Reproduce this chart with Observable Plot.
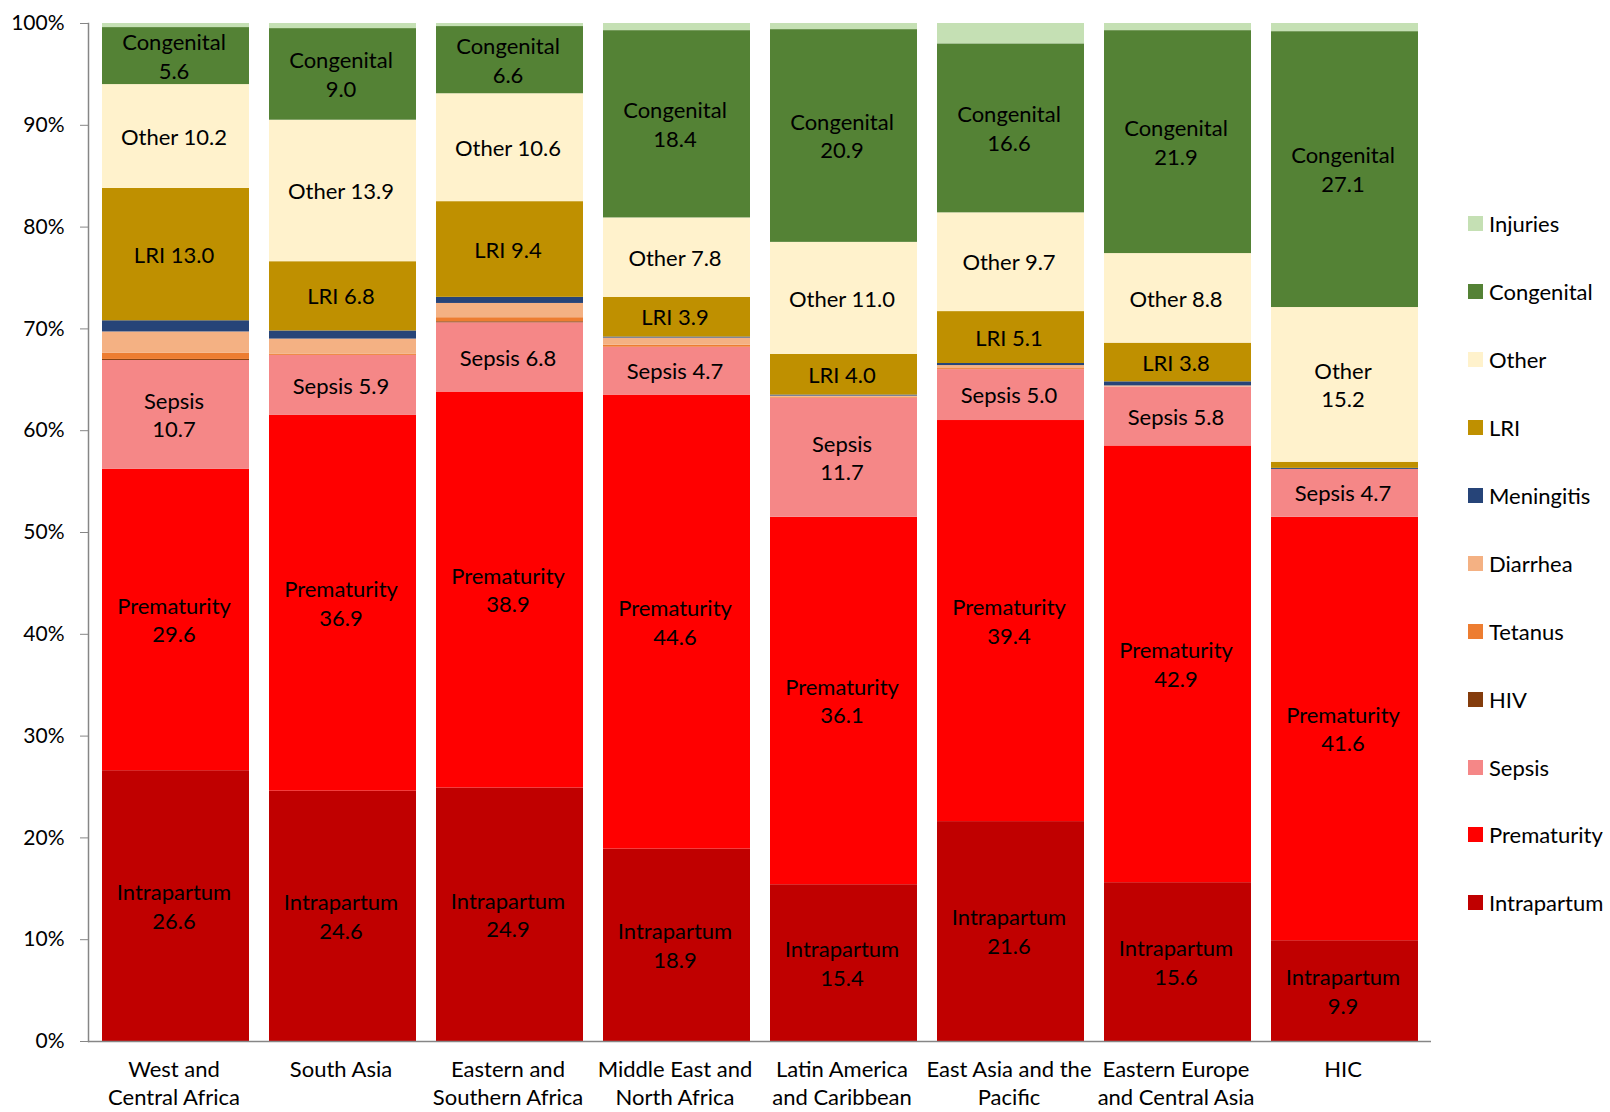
<!DOCTYPE html>
<html>
<head>
<meta charset="utf-8">
<script src="https://cdn.jsdelivr.net/npm/d3@7"></script>
<script src="https://cdn.jsdelivr.net/npm/@observablehq/plot@0.6"></script>
<style>
  html, body { margin: 0; padding: 0; background: #fff; }
  #wrap { position: relative; width: 1610px; height: 1112px; font-family: Lato, "Noto Sans", sans-serif; }
  #legend { position: absolute; left: 1468px; top: 190px; display: flex; flex-direction: column; }
  #legend .item { height: 67.9px; display: flex; align-items: center; font-size: 22px; color: #000; }
  #legend .sw { width: 15px; height: 15px; margin-right: 6px; }
</style>
</head>
<body>
<div id="wrap"><div id="legend"></div></div>
<script>
// Regions (x categories) and their two-line axis labels
const regions = ["West and Central Africa", "South Asia", "Eastern and Southern Africa", "Middle East and North Africa",
  "Latin America and Caribbean", "East Asia and the Pacific", "Eastern Europe and Central Asia", "HIC"];
const regionLabels = ["West and\nCentral Africa", "South Asia", "Eastern and\nSouthern Africa", "Middle East and\nNorth Africa",
  "Latin America\nand Caribbean", "East Asia and the\nPacific", "Eastern Europe\nand Central Asia", "HIC"];

// Share of neonatal deaths by cause (%), one value per region
const intrapartum = [26.6, 24.6, 24.9, 18.9, 15.4, 21.6, 15.6, 9.9];
const prematurity = [29.6, 36.9, 38.9, 44.6, 36.1, 39.4, 42.9, 41.6];
const sepsis      = [10.7, 5.9, 6.8, 4.7, 11.7, 5.0, 5.8, 4.7];
const hiv         = [0.1, 0.0, 0.1, 0.0, 0.0, 0.0, 0.0, 0.0];
const tetanus     = [0.6, 0.1, 0.4, 0.2, 0.1, 0.1, 0.0, 0.0];
const diarrhea    = [2.1, 1.5, 1.4, 0.7, 0.1, 0.3, 0.1, 0.0];
const meningitis  = [1.1, 0.8, 0.6, 0.1, 0.1, 0.2, 0.4, 0.1];
const lri         = [13.0, 6.8, 9.4, 3.9, 4.0, 5.1, 3.8, 0.6];
const other       = [10.2, 13.9, 10.6, 7.8, 11.0, 9.7, 8.8, 15.2];
const congenital  = [5.6, 9.0, 6.6, 18.4, 20.9, 16.6, 21.9, 27.1];
const injuries    = [0.4, 0.5, 0.3, 0.7, 0.6, 2.0, 0.7, 0.8];

// Causes bottom-to-top, with colours
const causes = ["Intrapartum", "Prematurity", "Sepsis", "HIV", "Tetanus", "Diarrhea", "Meningitis", "LRI", "Other", "Congenital", "Injuries"];
const series = [intrapartum, prematurity, sepsis, hiv, tetanus, diarrhea, meningitis, lri, other, congenital, injuries];
const colors = ["#C00000", "#FF0000", "#F58787", "#843C0C", "#ED7D31", "#F4B183", "#264478", "#BF9000", "#FFF2CC", "#548235", "#C5E0B4"];

// Causes whose value is written inside the segment
const labelledCauses = ["Intrapartum", "Prematurity", "Sepsis", "LRI", "Other", "Congenital"];
// Labels broken over two lines (name above value): [region index, cause]
const twoLine = [
  [0, "Congenital"], [0, "Sepsis"], [0, "Prematurity"], [0, "Intrapartum"],
  [1, "Congenital"], [1, "Prematurity"], [1, "Intrapartum"],
  [2, "Congenital"], [2, "Prematurity"], [2, "Intrapartum"],
  [3, "Congenital"], [3, "Prematurity"], [3, "Intrapartum"],
  [4, "Congenital"], [4, "Sepsis"], [4, "Prematurity"], [4, "Intrapartum"],
  [5, "Congenital"], [5, "Prematurity"], [5, "Intrapartum"],
  [6, "Congenital"], [6, "Prematurity"], [6, "Intrapartum"],
  [7, "Congenital"], [7, "Other"], [7, "Prematurity"], [7, "Intrapartum"]
];

const rows = [];
causes.forEach((c, ci) => regions.forEach((r, ri) => rows.push({region: r, ri, cause: c, value: series[ci][ri]})));

const isTwoLine = d => twoLine.some(([ri, c]) => ri === d.ri && c === d.cause);
const labelText = d => {
  if (!labelledCauses.includes(d.cause) || d.value < 3) return null;
  const v = d.value.toFixed(1);
  return isTwoLine(d) ? `${d.cause}\n${v}` : `${d.cause} ${v}`;
};

const chart = Plot.plot({
  width: 1610,
  height: 1112,
  marginLeft: 88,
  marginRight: 179,
  marginTop: 23,
  marginBottom: 71,
  style: {fontFamily: "Lato, 'Noto Sans', sans-serif", fontSize: "22px", color: "#000", background: "#fff"},
  x: {domain: regions, paddingInner: 0.12, paddingOuter: 0.06, label: null},
  y: {domain: [0, 100], label: null},
  color: {domain: causes, range: colors},
  marks: [
    Plot.barY(rows, Plot.stackY({x: "region", y: "value", z: "cause", fill: "cause", order: null})),
    Plot.text(rows, Plot.stackY({x: "region", y: "value", z: "cause", order: null, text: labelText,
      fill: "#000", fontSize: 22, lineHeight: 1.3, dx: -2, dy: -1})),
    Plot.axisY({ticks: d3.range(0, 101, 10), tickFormat: d => d + "%", tickSize: 8, tickPadding: 16,
      stroke: "#868686", fontSize: 21, label: null}),
    Plot.axisX({tickSize: 0, tickPadding: 16, tickFormat: d => regionLabels[regions.indexOf(d)],
      fontSize: 22, lineHeight: 1.25, dx: -2, label: null}),
    Plot.frame({anchor: "left", stroke: "#868686", strokeWidth: 1.5}),
    Plot.ruleY([0], {stroke: "#868686", strokeWidth: 1.5})
  ]
});
document.getElementById("wrap").prepend(chart);

// Legend, top entry first
const legend = document.getElementById("legend");
causes.slice().reverse().forEach(c => {
  const item = document.createElement("div");
  item.className = "item";
  const sw = document.createElement("span");
  sw.className = "sw";
  sw.style.background = colors[causes.indexOf(c)];
  item.appendChild(sw);
  item.appendChild(document.createTextNode(c));
  legend.appendChild(item);
});
</script>
</body>
</html>
